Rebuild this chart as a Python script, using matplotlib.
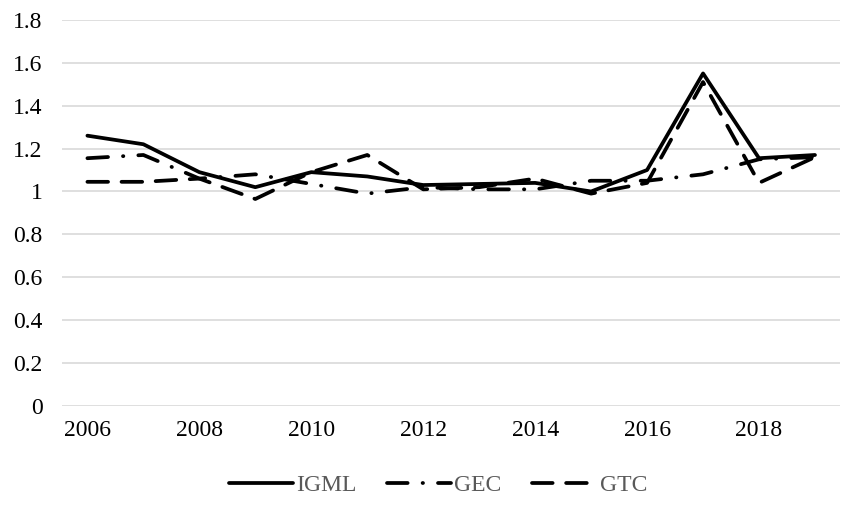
import matplotlib.pyplot as plt

# ── Data ──────────────────────────────────────────────────────────────────────
years = [2006, 2007, 2008, 2009, 2010, 2011, 2012, 2013, 2014, 2015, 2016, 2017, 2018, 2019]
igml = [1.26, 1.22, 1.09, 1.02, 1.09, 1.07, 1.03, 1.035, 1.04, 1.00, 1.10, 1.55, 1.155, 1.17]
gec  = [1.155, 1.17, 1.06, 1.08, 1.035, 0.99, 1.02, 1.01, 1.01, 1.05, 1.05, 1.08, 1.15, 1.16]
gtc  = [1.045, 1.045, 1.06, 0.965, 1.09, 1.17, 1.01, 1.02, 1.06, 0.99, 1.04, 1.51, 1.04, 1.16]

y_ticks = [0, 0.2, 0.4, 0.6, 0.8, 1, 1.2, 1.4, 1.6, 1.8]
y_labels = ["0", "0.2", "0.4", "0.6", "0.8", "1", "1.2", "1.4", "1.6", "1.8"]
x_ticks = [2006, 2008, 2010, 2012, 2014, 2016, 2018]

plt.rcParams["font.family"] = ["Liberation Serif", "DejaVu Serif"]

fig = plt.figure(figsize=(8.41, 5.07), dpi=100)
ax = fig.add_axes([0.074, 0.199, 0.925, 0.762])

lw = 2.7
ax.plot(years, igml, color="black", linewidth=lw, solid_capstyle="round",
        solid_joinstyle="round", label="IGML")
ax.plot(years, gec, color="black", linewidth=lw, dashes=(5.5, 4, 0.1, 4),
        dash_capstyle="round", label="GEC")
ax.plot(years, gtc, color="black", linewidth=lw, dashes=(5.5, 3.6),
        dash_capstyle="round", label="GTC")

ax.set_xlim(2005.55, 2019.45)
ax.set_ylim(0, 1.8)
ax.set_yticks(y_ticks)
ax.set_yticklabels(y_labels)
ax.set_xticks(x_ticks)
ax.set_xticklabels([str(x) for x in x_ticks])

ax.grid(axis="y", color="#d9d9d9", linewidth=1.2)
ax.set_axisbelow(True)
for s in ax.spines.values():
    s.set_visible(False)
ax.tick_params(length=0, labelsize=17, colors="black")
ax.tick_params(axis="y", pad=14)
ax.tick_params(axis="x", pad=10)

leg = ax.legend(loc="center", bbox_to_anchor=(0.483, -0.205), ncol=3, frameon=False,
                fontsize=17, handlelength=2.7, handletextpad=0.15, columnspacing=1.3)
for t in leg.get_texts():
    t.set_color("#595959")

fig.savefig("out.png", dpi=100)
